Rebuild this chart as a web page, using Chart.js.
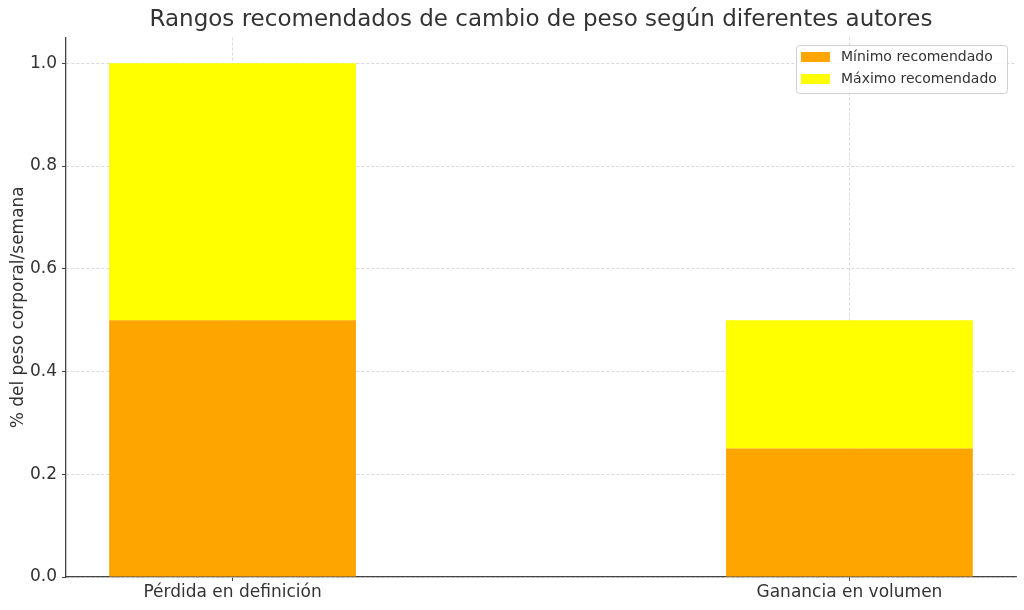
<!DOCTYPE html>
<html>
<head>
<meta charset="utf-8">
<script src="https://cdn.jsdelivr.net/npm/chart.js"></script>
<style>
  body { margin: 0; background: #fff; }
</style>
</head>
<body>
<canvas id="rangosChart" width="1024" height="610"></canvas>
<script>

// datos del grafico
var categorias = ['Pérdida en definición', 'Ganancia en volumen'];
var minimoRecomendado = [0.5, 0.25];
var maximoRecomendado = [1.0, 0.5];
var ticksY = [0, 0.2, 0.4, 0.6, 0.8, 1.0];

var colorMinimo = '#FFA500';
var colorMaximo = '#FFFF00';

// leyenda dibujada a mano (arriba a la derecha, estilo matplotlib)
var leyendaPlugin = {
    id: 'leyendaCaja',
    afterDraw(chart) {
        var ctx = chart.ctx;
        var x = 796, y = 45, w = 211, h = 48;
        ctx.save();
        ctx.fillStyle = 'rgba(255,255,255,0.85)';
        ctx.strokeStyle = '#d0d0d0';
        ctx.lineWidth = 1;
        ctx.beginPath();
        ctx.roundRect(x + 0.5, y + 0.5, w, h, 3);
        ctx.fill();
        ctx.stroke();
        var items = chart.data.datasets;
        ctx.font = '14px "DejaVu Sans"';
        ctx.textBaseline = 'middle';
        items.forEach((ds, i) => {
            var cy = y + 12 + i * 22;
            ctx.fillStyle = ds.backgroundColor;
            ctx.fillRect(x + 5, cy - 5, 29, 10);
            ctx.fillStyle = '#333';
            ctx.fillText(ds.label, x + 45, cy);
        });
        ctx.restore();
    }
};

var gridComun = {
    color: '#d0d0d0',
    lineWidth: 0.8,
    offset: false,
    tickLength: 4,
    tickColor: '#444',
    tickBorderDash: [],
    tickWidth: 1
};

var ctx = document.getElementById('rangosChart').getContext('2d');
var chart = new Chart(ctx, {
    type: 'bar',
    data: {
        datasets: [{
            label: 'Mínimo recomendado',
            data: categorias.map((c, i) => ({ x: i, y: minimoRecomendado[i] })),
            backgroundColor: colorMinimo,
            borderWidth: 0
        }, {
            label: 'Máximo recomendado',
            data: categorias.map((c, i) => ({ x: i, y: [minimoRecomendado[i], maximoRecomendado[i]] })),
            backgroundColor: colorMaximo,
            borderWidth: 0
        }]
    },
    options: {
        responsive: false,
        animation: false,
        devicePixelRatio: 1,
        grouped: false,
        categoryPercentage: 1,
        barPercentage: 0.4,
        layout: { padding: { top: 0, right: 8, left: 0, bottom: 0 } },
        plugins: {
            legend: { display: false },
            tooltip: { enabled: false },
            title: {
                display: true,
                fullSize: false,
                text: 'Rangos recomendados de cambio de peso según diferentes autores',
                color: '#333',
                font: { family: 'DejaVu Sans', size: 23, weight: 'normal' },
                padding: { top: 6, bottom: 4 }
            }
        },
        scales: {
            x: {
                type: 'linear',
                min: -0.27,
                max: 1.27,
                offset: false,
                z: 1,
                afterBuildTicks: scale => {
                    scale.ticks = categorias.map((c, i) => ({ value: i }));
                },
                afterFit: scale => { scale.height = 33; },
                ticks: {
                    autoSkip: false,
                    maxRotation: 0,
                    padding: 1,
                    color: '#333',
                    font: { family: 'DejaVu Sans', size: 17 },
                    callback: v => categorias[v]
                },
                grid: gridComun,
                border: { display: true, color: '#444', width: 1.3, dash: [3, 2] }
            },
            y: {
                min: 0,
                max: 1.05,
                z: 1,
                afterBuildTicks: scale => {
                    scale.ticks = ticksY.map(v => ({ value: v }));
                },
                afterFit: scale => { scale.width = 66; },
                title: {
                    display: true,
                    text: '% del peso corporal/semana',
                    color: '#333',
                    font: { family: 'DejaVu Sans', size: 17 },
                    padding: { top: 8, bottom: 0 }
                },
                ticks: {
                    padding: 5,
                    color: '#333',
                    font: { family: 'DejaVu Sans', size: 17 },
                    callback: v => v.toFixed(1)
                },
                grid: gridComun,
                border: { display: true, color: '#444', width: 1.3, dash: [3, 2] }
            }
        }
    },
    plugins: [leyendaPlugin]
});

</script>
</body>
</html>
